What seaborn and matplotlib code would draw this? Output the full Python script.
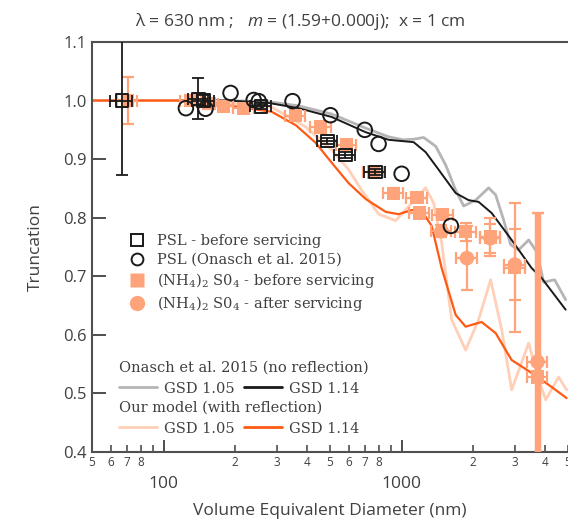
import numpy as np
import pandas as pd
import matplotlib
matplotlib.use("Agg")
import matplotlib.pyplot as plt
import seaborn as sns
from matplotlib.lines import Line2D
from matplotlib.ticker import FixedLocator, FixedFormatter

# ---------------- data ----------------
# Model curves: Onasch et al. 2015 (no reflection)
onasch105_d = [50, 188, 276, 369, 508, 706, 882, 1020, 1123, 1237, 1390, 1531, 1687, 1822,
               2046, 2320, 2483, 2683, 2871, 3102, 3417, 3692, 3951, 4394, 4887]
onasch105_t = [1.0, 1.0, 0.998, 0.991, 0.977, 0.953, 0.938, 0.933, 0.934, 0.937, 0.922, 0.890,
               0.847, 0.820, 0.830, 0.851, 0.839, 0.796, 0.754, 0.745, 0.762, 0.742, 0.690,
               0.694, 0.660]
onasch114_d = [50, 188, 276, 369, 508, 706, 882, 1123, 1261, 1430, 1687, 1912, 2106, 2389,
               2899, 3517, 3875, 4887]
onasch114_t = [1.0, 1.0, 0.996, 0.987, 0.972, 0.946, 0.933, 0.929, 0.912, 0.882, 0.842, 0.830,
               0.827, 0.808, 0.762, 0.714, 0.697, 0.643]
# Our model (with reflection)
model105_d = [50, 155, 207, 284, 395, 508, 599, 679, 801, 944, 1102, 1261, 1363, 1473, 1622,
              1857, 2106, 2365, 2632, 2899, 3417, 3692, 4027, 4567, 4935]
model105_t = [1.0, 1.0, 0.994, 0.989, 0.955, 0.916, 0.882, 0.847, 0.806, 0.795, 0.825, 0.851,
              0.825, 0.757, 0.626, 0.574, 0.626, 0.694, 0.609, 0.506, 0.586, 0.535, 0.489,
              0.528, 0.506]
model114_d = [50, 140, 207, 284, 359, 435, 508, 599, 706, 857, 971, 1102, 1214, 1337, 1473,
              1687, 1857, 2168, 2483, 2899, 3517, 4269, 4935]
model114_t = [1.0, 1.0, 0.989, 0.981, 0.958, 0.928, 0.894, 0.859, 0.832, 0.810, 0.806, 0.813,
              0.812, 0.786, 0.714, 0.634, 0.614, 0.622, 0.603, 0.557, 0.535, 0.511, 0.492]

# PSL - before servicing (open squares)
psl_d = [66.7, 140, 147, 256, 488, 580, 776]
psl_t = [1.0, 1.003, 1.0, 0.99, 0.931, 0.907, 0.878]
psl_yerr = [0.127, 0.035, 0.01, 0.005, 0.005, 0.005, 0.005]
psl_xerr = [7, 14, 15, 26, 49, 58, 78]

# PSL (Onasch et al. 2015) (open circles)
onasch_pts_d = [124, 150, 191, 239, 251, 348, 502, 700, 800, 1000, 1610]
onasch_pts_t = [0.987, 0.986, 1.013, 1.001, 0.999, 0.999, 0.975, 0.95, 0.926, 0.875, 0.786]

# (NH4)2SO4 - before servicing (filled squares)
as_before_d = [70.6, 130, 155, 178, 217, 358, 457, 587, 763, 925, 1160, 1190, 1490, 1860,
               2360, 2990, 3726]
as_before_t = [1.0, 1.0, 0.995, 0.99, 0.987, 0.974, 0.955, 0.924, 0.878, 0.842, 0.834, 0.808,
               0.805, 0.776, 0.767, 0.715, 0.528]
as_before_yerr = [0.04, 0.005, 0.005, 0.005, 0.005, 0.005, 0.005, 0.005, 0.005, 0.008, 0.008,
                  0.008, 0.008, 0.015, 0.033, 0.11, 0.28]
as_before_xerr = [7, 13, 15, 18, 22, 36, 46, 59, 76, 92, 116, 119, 149, 186, 236, 299, 373]

# (NH4)2SO4 - after servicing (filled circles)
as_after_d = [1470, 1880, 2360, 2990, 3726]
as_after_t = [0.777, 0.731, 0.765, 0.72, 0.554]
as_after_yerr = [0.01, 0.055, 0.025, 0.06, 0.254]
as_after_xerr = [147, 188, 236, 299, 373]

x_minor = [50, 60, 70, 80, 90, 200, 300, 400, 500, 600, 700, 800, 900, 2000, 3000, 4000, 5000]
x_minor_labels = ["5", "6", "7", "8", "", "2", "3", "4", "5", "6", "7", "8", "", "2", "3", "4", "5"]
x_major = [100, 1000]
x_major_labels = ["100", "1000"]
y_ticks = [0.4, 0.5, 0.6, 0.7, 0.8, 0.9, 1.0, 1.1]

# ---------------- style ----------------
sns.set_theme(style="white")
plt.rcParams["font.family"] = ["Open Sans", "DejaVu Sans"]
plt.rcParams["mathtext.fontset"] = "custom"
plt.rcParams["mathtext.rm"] = "DejaVu Serif"
plt.rcParams["mathtext.it"] = "Open Sans:italic"

TXT = "#404040"
C_GRAY = "#b5b5b5"
C_BLACK = "#1a1a1a"
C_LIGHT = "#ffcfb8"
C_DARK = "#ff5a14"
C_SALMON = "#ffa47a"

fig = plt.figure(figsize=(5.68, 5.26), dpi=100)
ax = fig.add_axes([92 / 568, 74 / 526, 476 / 568, 410 / 526])
ax.set_xscale("log")

# curves
curves = [
    (onasch105_d, onasch105_t, C_GRAY, 2.0),
    (onasch114_d, onasch114_t, C_BLACK, 1.4),
    (model105_d, model105_t, C_LIGHT, 2.0),
    (model114_d, model114_t, C_DARK, 1.6),
]
for d, t, c, lw in curves:
    sns.lineplot(x=d, y=t, sort=False, estimator=None, color=c, lw=lw, ax=ax, zorder=2)

# (NH4)2SO4 error bars and markers
eb1 = ax.errorbar(as_before_d, as_before_t, xerr=as_before_xerr, yerr=as_before_yerr, fmt="none",
                  ecolor=C_SALMON, elinewidth=1.6, capsize=4, capthick=1.6, zorder=3)
lw_b = [1.6] * (len(as_before_d) - 1) + [4.5]
eb1.lines[2][1].set_linewidths(lw_b)
eb2 = ax.errorbar(as_after_d, as_after_t, xerr=as_after_xerr, yerr=as_after_yerr, fmt="none",
                  ecolor=C_SALMON, elinewidth=1.6, capsize=4, capthick=1.6, zorder=3)
lw_a = [1.6] * (len(as_after_d) - 1) + [4.5]
eb2.lines[2][1].set_linewidths(lw_a)

sns.scatterplot(x=as_before_d, y=as_before_t, marker="s", s=90, color=C_SALMON,
                edgecolor="none", ax=ax, zorder=3)
sns.scatterplot(x=as_after_d, y=as_after_t, marker="o", s=110, color=C_SALMON,
                edgecolor="none", ax=ax, zorder=3)

# PSL error bars and markers
ax.errorbar(psl_d, psl_t, xerr=psl_xerr, yerr=psl_yerr, fmt="none", ecolor=C_BLACK,
            elinewidth=1.3, capsize=4, capthick=1.3, zorder=4)
sns.scatterplot(x=psl_d, y=psl_t, marker="s", s=80, ax=ax, zorder=5)
c = ax.collections[-1]
c.set_facecolor("none"); c.set_edgecolor(C_BLACK); c.set_linewidth(1.4)
sns.scatterplot(x=onasch_pts_d, y=onasch_pts_t, marker="o", s=110, ax=ax, zorder=5)
c = ax.collections[-1]
c.set_facecolor("none"); c.set_edgecolor(C_BLACK); c.set_linewidth(1.4)

# axes
ax.set_xlim(50, 5000)
ax.set_ylim(0.4, 1.1)
ax.xaxis.set_major_locator(FixedLocator(x_major))
ax.xaxis.set_major_formatter(FixedFormatter(x_major_labels))
ax.xaxis.set_minor_locator(FixedLocator(x_minor))
ax.xaxis.set_minor_formatter(FixedFormatter(x_minor_labels))
ax.set_yticks(y_ticks)
ax.set_yticklabels([f"{v:.1f}" for v in y_ticks])

ax.tick_params(axis="x", which="major", direction="in", length=9, width=1.3, pad=17,
               labelsize=12.5, colors=TXT, bottom=True)
ax.tick_params(axis="x", which="minor", direction="in", length=5, width=1.1, pad=3,
               labelsize=8.5, colors=TXT, bottom=True)
ax.tick_params(axis="y", which="major", direction="in", length=10, width=1.3, pad=4,
               labelsize=12, colors=TXT, left=True)

for s in ["left", "bottom", "top"]:
    ax.spines[s].set_color("#505050")
    ax.spines[s].set_linewidth(1.5)
ax.spines["right"].set_visible(False)

ax.set_xlabel("Volume Equivalent Diameter (nm)", fontsize=12.5, color=TXT, labelpad=8)
ax.set_ylabel("Truncation", fontsize=12.5, color=TXT, labelpad=14)

fig.text(300 / 568, 1 - 22 / 526, r"λ = 630 nm ;   $m$ = (1.59+0.000j);  x = 1 cm",
         ha="center", va="center", fontsize=12.5, color=TXT)

# legends
LFONT = {"family": "DejaVu Serif", "size": 10.5}
h_markers = [
    Line2D([], [], ls="none", marker="s", ms=8.5, mfc="none", mec=C_BLACK, mew=1.4),
    Line2D([], [], ls="none", marker="o", ms=8.5, mfc="none", mec=C_BLACK, mew=1.4),
    Line2D([], [], ls="none", marker="s", ms=10, mfc=C_SALMON, mec="none"),
    Line2D([], [], ls="none", marker="o", ms=11, mfc=C_SALMON, mec="none"),
]
l_markers = ["PSL - before servicing", "PSL (Onasch et al. 2015)",
             r"(NH$_4$)$_2$ S0$_4$ - before servicing", r"(NH$_4$)$_2$ S0$_4$ - after servicing"]
leg1 = ax.legend(h_markers, l_markers, loc="upper left", bbox_to_anchor=(122 / 568, 1 - 227 / 526),
                 bbox_transform=fig.transFigure, frameon=False, prop=LFONT, handlelength=1.0,
                 handletextpad=0.9, labelspacing=0.3, borderpad=0, labelcolor=TXT)
ax.add_artist(leg1)

def group_legend(h1c, h2c, title, y, add):
    hs = [Line2D([], [], color=h1c, lw=2), Line2D([], [], color=h2c, lw=2)]
    lg = ax.legend(hs, ["GSD 1.05", "GSD 1.14"], ncol=2, title=title, loc="upper left",
                   bbox_to_anchor=(112 / 568, 1 - y / 526), bbox_transform=fig.transFigure,
                   frameon=False, prop=LFONT, title_fontproperties=LFONT, handlelength=2.6,
                   handletextpad=0.5, columnspacing=0.6, borderpad=0, labelcolor=TXT)
    lg.get_title().set_color(TXT)
    lg._legend_box.align = "left"
    if add:
        ax.add_artist(lg)
    return lg

group_legend(C_GRAY, C_BLACK, "Onasch et al. 2015 (no reflection)", 353, True)
group_legend(C_LIGHT, C_DARK, "Our model (with reflection)", 393, False)

fig.savefig("out.png", dpi=100)
